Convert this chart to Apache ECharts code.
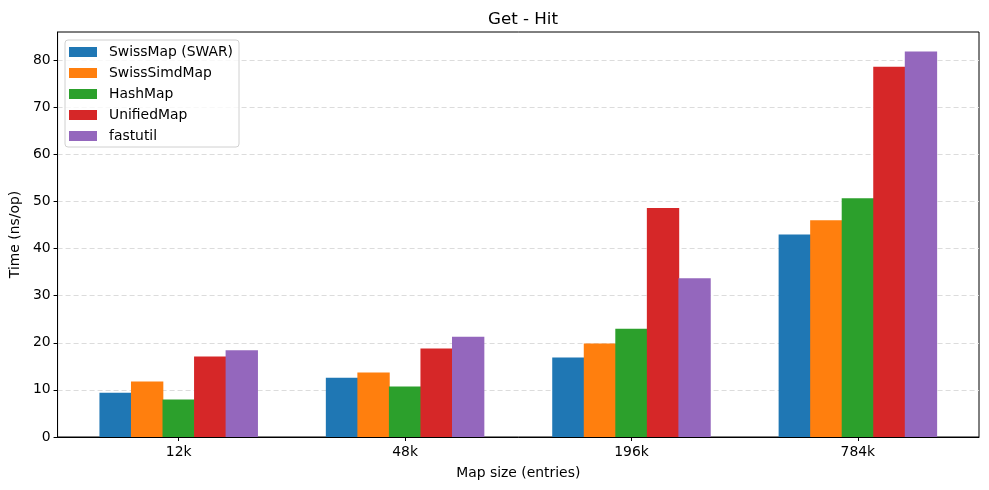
<!DOCTYPE html>
<html><head><meta charset="utf-8">
<script src="https://cdn.jsdelivr.net/npm/echarts@6/dist/echarts.min.js"></script>
<style>html,body{margin:0;padding:0;background:#fff}#c{width:989px;height:490px}</style>
</head><body><div id="c"></div>
<script>
const categories = ['12k', '48k', '196k', '784k'];
const seriesNames = ['SwissMap (SWAR)', 'SwissSimdMap', 'HashMap', 'UnifiedMap', 'fastutil'];
const swissMapSwar = [9.4, 12.6, 16.9, 43.0];
const swissSimdMap = [11.8, 13.7, 19.85, 46.0];
const hashMap = [7.95, 10.7, 23.0, 50.7];
const unifiedMap = [17.1, 18.8, 48.6, 78.6];
const fastutil = [18.4, 21.3, 33.7, 81.8];
const yTicks = [0, 10, 20, 30, 40, 50, 60, 70, 80];
const colors = ['#1f77b4', '#ff7f0e', '#2ca02c', '#d62728', '#9467bd'];
const allValues = [swissMapSwar, swissSimdMap, hashMap, unifiedMap, fastutil];

const font = 'DejaVu Sans';
const chart = echarts.init(document.getElementById('c'), null, {renderer: 'canvas'});
const plotW = 989 - 57 - 10;
const unitPx = plotW / 4.07;
const barW = unitPx * 0.14 * 1.02;

chart.setOption({
  animation: false,
  textStyle: {fontFamily: font, color: '#000'},
  color: colors,
  title: {text: 'Get - Hit', left: 518, top: 6, textAlign: 'center',
    textStyle: {fontFamily: font, fontSize: 16.7, fontWeight: 'normal', color: '#000'}},
  grid: {left: 57, right: 10, top: 32, bottom: 53, show: true, borderColor: '#000', borderWidth: 1, backgroundColor: 'transparent'},
  legend: {
    orient: 'vertical', left: 65, top: 40,
    itemWidth: 28, itemHeight: 10, itemGap: 7,
    padding: [5, 6, 4, 4],
    borderColor: '#d0d0d0', borderWidth: 1, borderRadius: 3,
    backgroundColor: 'rgba(255,255,255,0.8)',
    icon: 'rect',
    textStyle: {fontFamily: font, fontSize: 13.9, color: '#000', padding: [0, 0, 0, 7]},
    data: seriesNames
  },
  xAxis: {
    type: 'value', min: -0.535, max: 3.535,
    name: 'Map size (entries)', nameLocation: 'middle', nameGap: 29,
    nameTextStyle: {fontFamily: font, fontSize: 13.9, color: '#000'},
    axisLine: {show: true, onZero: false, lineStyle: {color: '#000', width: 1}},
    axisTick: {show: true, length: 4, lineStyle: {color: '#000'}, customValues: [0, 1, 2, 3]},
    axisLabel: {customValues: [0, 1, 2, 3], margin: 8, fontFamily: font, fontSize: 13.9, color: '#000',
      formatter: v => categories[Math.round(v)]},
    splitLine: {show: false}
  },
  yAxis: {
    type: 'value', min: 0, max: 85.96, interval: 10,
    name: 'Time (ns/op)', nameLocation: 'middle', nameGap: 32,
    nameTextStyle: {fontFamily: font, fontSize: 13.9, color: '#000'},
    axisLine: {show: true, onZero: false, lineStyle: {color: '#000', width: 1}},
    axisTick: {show: true, length: 4, lineStyle: {color: '#000'}},
    axisLabel: {showMaxLabel: false, margin: 7, fontFamily: font, fontSize: 13.9, color: '#000'},
    splitLine: {show: true, showMaxLine: false, showMinLine: false, lineStyle: {color: '#dcdcdc', type: [5, 3], width: 1}}
  },
  series: seriesNames.map((n, i) => ({
    name: n, type: 'bar', barWidth: barW, barGap: '-2.5%',
    itemStyle: {color: colors[i]},
    data: allValues[i].map((v, j) => [j, v])
  }))
});
</script></body></html>
